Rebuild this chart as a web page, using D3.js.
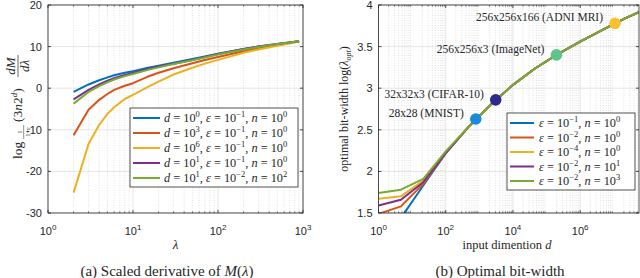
<!DOCTYPE html>
<html>
<head>
<meta charset="utf-8">
<script src="https://cdn.jsdelivr.net/npm/d3@7"></script>
<style>
  html, body { margin: 0; padding: 0; background: #fff; }
  svg { display: block; }
  .tick-label { font-family: "Liberation Sans", Arial, sans-serif; font-size: 11px; fill: #262626; }
  .serif { font-family: "Liberation Serif", "Times New Roman", serif; fill: #262626; }
</style>
</head>
<body>
<svg id="chart" width="640" height="278"></svg>
<script>
// ---- data, left panel: scaled derivative of M(lambda)
const lambdas = [2, 3, 4, 5, 6, 8, 10, 15, 20, 30, 50, 70, 100, 200, 300, 500, 900];
const derivBlue   = [-0.9, 0.9, 1.9, 2.6, 3.1, 3.7, 4.1, 4.9, 5.4, 6.1, 7.0, 7.6, 8.3, 9.4, 10.0, 10.6, 11.3];
const derivOrange = [-11.3, -5.2, -2.8, -1.4, -0.4, 0.6, 1.2, 2.8, 3.7, 4.8, 6.0, 6.8, 7.5, 8.9, 9.6, 10.4, 11.2];
const derivYellow = [-25.1, -13.4, -8.8, -6.2, -4.6, -2.6, -1.6, 0.3, 1.6, 3.3, 4.9, 5.9, 6.8, 8.5, 9.3, 10.2, 11.2];
const derivPurple = [-2.7, -0.4, 0.9, 1.8, 2.4, 3.2, 3.7, 4.6, 5.2, 5.9, 6.8, 7.5, 8.2, 9.4, 10.0, 10.6, 11.3];
const derivGreen  = [-3.7, -0.9, 0.5, 1.4, 2.1, 2.9, 3.4, 4.4, 5.0, 5.8, 6.7, 7.4, 8.1, 9.3, 9.9, 10.6, 11.3];
// legend: [d exponent, eps exponent, n exponent]
const leftLegend = [["0", "−1", "0"], ["3", "−1", "0"], ["6", "−1", "0"], ["1", "−1", "0"], ["1", "−2", "2"]];
const leftYTicks = [-30, -20, -10, 0, 10, 20];
const leftXTicks = [1, 10, 100, 1000];

// ---- data, right panel: optimal bit-width
const dims = [1, 4.64, 21.5, 100, 464, 2154, 1e4, 46416, 215443, 1e6, 4.64e6, 2.15e7, 1e8];
const bitsBlue   = [1.05, 1.44, 1.83, 2.22, 2.53, 2.80, 3.04, 3.24, 3.41, 3.56, 3.70, 3.84, 3.96];
const bitsOrange = [1.49, 1.58, 1.85, 2.22, 2.53, 2.80, 3.04, 3.24, 3.41, 3.56, 3.70, 3.84, 3.96];
const bitsYellow = [1.67, 1.70, 1.89, 2.23, 2.53, 2.80, 3.04, 3.24, 3.41, 3.56, 3.70, 3.84, 3.96];
const bitsPurple = [1.59, 1.66, 1.87, 2.22, 2.53, 2.80, 3.04, 3.24, 3.41, 3.56, 3.70, 3.84, 3.96];
const bitsGreen  = [1.74, 1.78, 1.91, 2.24, 2.53, 2.80, 3.04, 3.24, 3.41, 3.56, 3.70, 3.84, 3.96];
// legend: [eps exponent, n exponent]
const rightLegend = [["−1", "0"], ["−2", "0"], ["−4", "0"], ["−2", "1"], ["−2", "3"]];
const datasetNames = ["28x28 (MNIST)", "32x32x3 (CIFAR-10)", "256x256x3 (ImageNet)", "256x256x166 (ADNI MRI)"];
const datasetDims  = [784, 3072, 196608, 10878976];
const datasetBits  = [2.63, 2.86, 3.40, 3.78];
const datasetColors = ["#1a8ad8", "#2e2a8c", "#5ec48a", "#fbc030"];
const rightYTicks = [1.5, 2, 2.5, 3, 3.5, 4];
const rightXTicks = [1, 1e2, 1e4, 1e6];

const lineColors = ["#0072BD", "#D95319", "#EDB120", "#7E2F8E", "#77AC30"];
const leftSeries = [derivBlue, derivOrange, derivYellow, derivPurple, derivGreen];
const rightSeries = [bitsBlue, bitsOrange, bitsYellow, bitsPurple, bitsGreen];

const svg = d3.select("#chart");

// write a math-ish string made of parts: [text, kind] with kind "n", "i", "sup", "isup"
function mathText(textSel, parts, supSize) {
  let raised = false;
  parts.forEach(([t, kind]) => {
    const ts = textSel.append("tspan").text(t);
    const sup = kind === "sup" || kind === "isup";
    if (kind === "i" || kind === "isup") ts.attr("font-style", "italic");
    if (sup && !raised) { ts.attr("dy", -5).attr("font-size", supSize); raised = true; }
    else if (sup) { ts.attr("font-size", supSize); }
    else if (!sup && raised) { ts.attr("dy", 5); raised = false; }
  });
  return textSel;
}

function drawPanel(opt) {
  const g = svg.append("g");
  const x = d3.scaleLog().domain(opt.xDomain).range([opt.x0, opt.x1]);
  const y = d3.scaleLinear().domain(opt.yDomain).range([opt.y1, opt.y0]);

  const clipId = "clip" + opt.id;
  svg.append("clipPath").attr("id", clipId).append("rect")
    .attr("x", opt.x0).attr("y", opt.y0).attr("width", opt.x1 - opt.x0).attr("height", opt.y1 - opt.y0);

  // minor x grid (dotted)
  const lo = Math.log10(opt.xDomain[0]), hi = Math.ceil(Math.log10(opt.xDomain[1]));
  let minor = [];
  for (let e = lo; e < hi; e++) for (let k = 2; k <= 9; k++) {
    const v = k * Math.pow(10, e);
    if (v < opt.xDomain[1]) minor.push(v);
  }
  g.selectAll(".mgrid").data(minor).enter().append("line")
    .attr("x1", d => x(d)).attr("x2", d => x(d)).attr("y1", opt.y0).attr("y2", opt.y1)
    .attr("stroke", "#d6d6d6").attr("stroke-width", 0.7).attr("stroke-dasharray", "1,1.5");

  // major grid
  g.selectAll(".xgrid").data(opt.xTicks).enter().append("line")
    .attr("x1", d => x(d)).attr("x2", d => x(d)).attr("y1", opt.y0).attr("y2", opt.y1)
    .attr("stroke", "#dedede").attr("stroke-width", 0.8);
  g.selectAll(".ygrid").data(opt.yTicks).enter().append("line")
    .attr("x1", opt.x0).attr("x2", opt.x1).attr("y1", d => y(d)).attr("y2", d => y(d))
    .attr("stroke", "#dedede").attr("stroke-width", 0.8);

  // lines
  const line = d3.line().x(d => x(d[0])).y(d => y(d[1]));
  const lg = g.append("g").attr("clip-path", "url(#" + clipId + ")");
  opt.series.forEach((s, i) => {
    lg.append("path").datum(opt.xs.map((v, j) => [v, s[j]]))
      .attr("d", line).attr("fill", "none").attr("stroke", lineColors[i])
      .attr("stroke-width", 2).attr("stroke-linejoin", "round");
  });

  // axes box and inward ticks on all sides
  const ax = g.append("g");
  ax.append("rect").attr("x", opt.x0).attr("y", opt.y0).attr("width", opt.x1 - opt.x0)
    .attr("height", opt.y1 - opt.y0).attr("fill", "none").attr("stroke", "#262626").attr("stroke-width", 0.8);
  [[opt.y1, -1], [opt.y0, 1]].forEach(([yy, dir]) => {
    ax.selectAll(null).data(opt.xTicks).enter().append("line")
      .attr("x1", d => x(d)).attr("x2", d => x(d)).attr("y1", yy).attr("y2", yy + dir * 3)
      .attr("stroke", "#262626").attr("stroke-width", 0.8);
    ax.selectAll(null).data(minor).enter().append("line")
      .attr("x1", d => x(d)).attr("x2", d => x(d)).attr("y1", yy).attr("y2", yy + dir * 1.7)
      .attr("stroke", "#262626").attr("stroke-width", 0.6);
  });
  [[opt.x0, 1], [opt.x1, -1]].forEach(([xx, dir]) => {
    ax.selectAll(null).data(opt.yTicks).enter().append("line")
      .attr("x1", xx).attr("x2", xx + dir * 3).attr("y1", d => y(d)).attr("y2", d => y(d))
      .attr("stroke", "#262626").attr("stroke-width", 0.8);
  });

  // tick labels
  opt.yTicks.forEach(t => {
    ax.append("text").attr("class", "tick-label").attr("x", opt.x0 - 6).attr("y", y(t) + 4)
      .attr("text-anchor", "end").text(t < 0 ? "-" + Math.abs(t) : String(t));
  });
  opt.xTicks.forEach(t => {
    const tx = ax.append("text").attr("class", "tick-label").attr("x", x(t)).attr("y", opt.y1 + 22)
      .attr("text-anchor", "middle");
    mathText(tx, [["10", "n"], [String(Math.round(Math.log10(t))), "sup"]], 8);
  });

  return { g, x, y };
}

// ---------------- left panel
const L = drawPanel({
  id: "L", x0: 48, x1: 303, y0: 5, y1: 213,
  xDomain: [1, 1000], yDomain: [-30, 20],
  xTicks: leftXTicks, yTicks: leftYTicks, xs: lambdas, series: leftSeries
});

// left legend
const llg = svg.append("g").attr("transform", "translate(130,108)");
llg.append("rect").attr("width", 168).attr("height", 79).attr("fill", "#fff")
  .attr("stroke", "#262626").attr("stroke-width", 0.8);
leftLegend.forEach((e, i) => {
  const yy = 10 + i * 15;
  llg.append("line").attr("x1", 3).attr("x2", 30).attr("y1", yy).attr("y2", yy)
    .attr("stroke", lineColors[i]).attr("stroke-width", 2);
  const t = llg.append("text").attr("class", "serif").attr("x", 34).attr("y", yy + 4).attr("font-size", 12.3);
  mathText(t, [["d", "i"], [" = 10", "n"], [e[0], "sup"], [", ", "n"], ["ε", "i"], [" = 10", "n"],
    [e[1], "sup"], [", ", "n"], ["n", "i"], [" = 10", "n"], [e[2], "sup"]], 8.5);
});

// left axis labels
svg.append("text").attr("class", "serif").attr("x", 175.5).attr("y", 249)
  .attr("text-anchor", "middle").attr("font-size", 13).attr("font-style", "italic").text("λ");

const ylab = svg.append("g").attr("transform", "translate(22,107) rotate(-90)");
const yl = ylab.append("g");
yl.append("text").attr("class", "serif").attr("font-size", 13.5).attr("x", 0).attr("y", 0).text("log");
const sub = yl.append("g").attr("transform", "translate(20,1)");
sub.append("text").attr("class", "serif").attr("font-size", 6.5).attr("x", 7).attr("y", -1).attr("text-anchor", "middle").text("1");
sub.append("line").attr("x1", 0).attr("x2", 14).attr("y1", 0.7).attr("y2", 0.7).attr("stroke", "#262626").attr("stroke-width", 0.5);
sub.append("text").attr("class", "serif").attr("font-size", 6.5).attr("x", 7).attr("y", 6.5).attr("text-anchor", "middle").text("1+ε");
const mid = yl.append("text").attr("class", "serif").attr("font-size", 13.5).attr("x", 37).attr("y", 0);
mathText(mid, [["(3", "n"], ["n", "i"], ["2", "n"], ["d", "isup"], [")", "n"]], 9);
const fr = yl.append("g").attr("transform", "translate(82,0)");
fr.append("text").attr("class", "serif").attr("font-size", 13).attr("font-style", "italic").attr("x", 11).attr("y", -7).attr("text-anchor", "middle").text("dM");
fr.append("line").attr("x1", 0).attr("x2", 22).attr("y1", -4).attr("y2", -4).attr("stroke", "#262626").attr("stroke-width", 0.7);
fr.append("text").attr("class", "serif").attr("font-size", 13).attr("font-style", "italic").attr("x", 11).attr("y", 7).attr("text-anchor", "middle").text("dλ");
const bbL = yl.node().getBBox();
yl.attr("transform", "translate(" + (-bbL.width / 2) + ",0)");

// caption a
const capA = svg.append("text").attr("class", "serif").attr("x", 167).attr("y", 276)
  .attr("text-anchor", "middle").attr("font-size", 15);
mathText(capA, [["(a) Scaled derivative of ", "n"], ["M", "i"], ["(", "n"], ["λ", "i"], [")", "n"]], 10);

// ---------------- right panel
const R = drawPanel({
  id: "R", x0: 378.5, x1: 639, y0: 5, y1: 213,
  xDomain: [1, Math.pow(10, 7.75)], yDomain: [1.5, 4],
  xTicks: rightXTicks, yTicks: rightYTicks, xs: dims, series: rightSeries
});

// dataset markers
datasetNames.forEach((name, i) => {
  const cx = R.x(datasetDims[i]), cy = R.y(datasetBits[i]);
  R.g.append("circle").attr("cx", cx).attr("cy", cy).attr("r", 5.8).attr("fill", datasetColors[i]);
  R.g.append("text").attr("class", "serif").attr("font-size", 11.5).attr("x", cx - 12).attr("y", cy - 2)
    .attr("text-anchor", "end").text(name);
});

// right legend
const rlg = svg.append("g").attr("transform", "translate(507,113)");
rlg.append("rect").attr("width", 128).attr("height", 77).attr("fill", "#fff")
  .attr("stroke", "#262626").attr("stroke-width", 0.8);
rightLegend.forEach((e, i) => {
  const yy = 10 + i * 14.5;
  rlg.append("line").attr("x1", 3).attr("x2", 27).attr("y1", yy).attr("y2", yy)
    .attr("stroke", lineColors[i]).attr("stroke-width", 2);
  const t = rlg.append("text").attr("class", "serif").attr("x", 32).attr("y", yy + 4).attr("font-size", 12.3);
  mathText(t, [["ε", "i"], [" = 10", "n"], [e[0], "sup"], [", ", "n"], ["n", "i"], [" = 10", "n"], [e[1], "sup"]], 8.5);
});

// right axis labels
const rxl = svg.append("text").attr("class", "serif").attr("x", 507).attr("y", 249)
  .attr("text-anchor", "middle").attr("font-size", 12.5);
mathText(rxl, [["input dimention ", "n"], ["d", "i"]], 8);

const ryl = svg.append("text").attr("class", "serif").attr("font-size", 12)
  .attr("transform", "translate(348,109) rotate(-90)").attr("text-anchor", "middle");
ryl.append("tspan").text("optimal bit-width log(");
ryl.append("tspan").attr("font-style", "italic").text("λ");
ryl.append("tspan").attr("font-size", 8).attr("font-style", "italic").attr("dy", 3).text("opt");
ryl.append("tspan").attr("dy", -3).text(")");

svg.append("text").attr("class", "serif").attr("x", 500).attr("y", 276)
  .attr("text-anchor", "middle").attr("font-size", 15).text("(b) Optimal bit-width");
</script>
</body>
</html>
